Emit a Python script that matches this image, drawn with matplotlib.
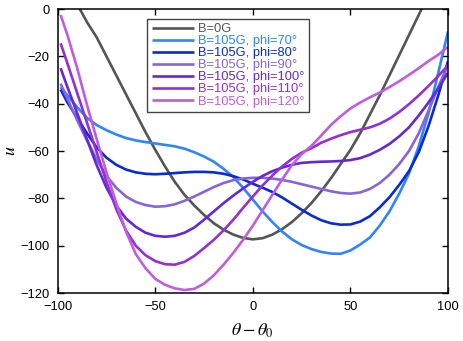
import matplotlib
matplotlib.use("Agg")
import matplotlib.pyplot as plt
import numpy as np

plt.rcParams['font.family'] = ['Liberation Sans', 'DejaVu Sans']
plt.rcParams['mathtext.fontset'] = 'stix'

# theta - theta0 sample points
x_gray = [-90, -85, -80, -75, -70, -65, -60, -55, -50, -45, -40, -35, -30, -25, -20,
          -15, -10, -5, 0, 5, 10, 15, 20, 25, 30, 35, 40, 45, 50, 55, 60, 65, 70,
          75, 80, 85, 90]
x_b = [-98.5, -95, -90, -85, -80, -75, -70, -65, -60, -55, -50, -45, -40, -35, -30,
       -25, -20, -15, -10, -5, 0, 5, 10, 15, 20, 25, 30, 35, 40, 45, 50, 55, 60,
       65, 70, 75, 80, 85, 90, 95, 100]

u_b0 = [2, -5.5, -12, -20, -28, -36, -44, -52, -59.5, -66.5, -73, -78.5, -83, -87,
        -90.5, -93.2, -95.3, -96.7, -97.3, -96.8, -95.3, -93, -90, -86.3, -82, -77,
        -71.5, -65.5, -59.5, -52.5, -44.5, -36.5, -28, -19.5, -11, -2.5, 6]

u_phi70 = [-33, -36.5, -41.5, -46, -49, -51.2, -53, -54.5, -55.5, -56.2, -56.8, -57.4,
           -58, -59, -60.5, -62.3, -64.5, -67.5, -71, -75.5, -80.5, -85.5, -90, -94,
           -97.3, -99.7, -101.4, -102.6, -103.3, -103.4, -102, -99.5, -96.5, -91.5,
           -85.5, -78, -69.5, -58, -44, -27, -9.5]

u_phi80 = [-34, -39.5, -46, -52.5, -58.5, -62.8, -65.8, -67.8, -69, -69.6, -69.8, -69.6,
           -69.3, -69, -68.8, -68.8, -69, -69.6, -70.6, -72, -73.8, -75.5, -77.3, -79.6,
           -82.2, -84.8, -87.2, -89.2, -90.5, -91.1, -91, -89.8, -87.5, -83.8, -79.5,
           -74.3, -68.5, -60.5, -49.5, -36.5, -22]

u_phi90 = [-31.5, -38, -47, -55.5, -63.5, -70.5, -75.5, -79.2, -81.5, -82.8, -83.5, -83.3,
           -82.5, -81, -79.2, -77.2, -75.2, -73.5, -72.3, -71.6, -71.3, -71.3, -71.6,
           -72.2, -73, -74, -75, -76, -77, -77.7, -78, -77.5, -76, -73.5, -70, -65.5,
           -60, -52.5, -43, -33, -23.5]

u_phi100 = [-25, -33, -44, -55, -66, -75.5, -83, -88.5, -92, -94.5, -95.8, -96.2, -95.8,
            -94.5, -92.3, -89, -85.5, -82, -78.8, -75.8, -73, -70.5, -68.5, -67, -65.8,
            -65, -64.7, -64.5, -64.4, -64.2, -63.8, -63, -61.5, -59.5, -57, -53.8, -50,
            -45, -39.5, -33.5, -27]

u_phi110 = [-14.5, -23, -35.5, -48, -60.5, -73, -84.5, -93.5, -100, -104, -106.5, -107.8,
            -108, -106.8, -104.3, -101, -97.5, -93.5, -89, -84, -79.2, -74.5, -70.3,
            -66.5, -63.3, -60.7, -58.8, -56.5, -54.8, -53.3, -52, -51, -50, -48.5, -46.3,
            -43.5, -40.2, -36.5, -32.5, -28.3, -23.8]

u_phi120 = [-2.5, -11, -25, -40.5, -55, -69, -82, -94, -103.5, -109.5, -114, -116.5, -118,
            -118.7, -118.2, -116, -112.5, -108, -103, -97.5, -91.5, -85, -78.5, -72, -66,
            -61.3, -57.8, -53.5, -49, -45.3, -42, -39.5, -37.3, -35.3, -33, -30.5, -27.8,
            -25, -22, -19.3, -16]

labels = ['B=0G', 'B=105G, phi=70°', 'B=105G, phi=80°', 'B=105G, phi=90°',
          'B=105G, phi=100°', 'B=105G, phi=110°', 'B=105G, phi=120°']
colors = ['#555555', '#2f85ff', '#0a2ad2', '#8466dc', '#6428d6', '#9230d2', '#c05ce0']

fig = plt.figure(figsize=(4.63, 3.41), dpi=100)
ax = fig.add_axes([0.1246, 0.1405, 0.843, 0.833])

series = [(x_gray, u_b0), (x_b, u_phi70), (x_b, u_phi80), (x_b, u_phi90),
          (x_b, u_phi100), (x_b, u_phi110), (x_b, u_phi120)]
for (xs, us), lab, col in zip(series, labels, colors):
    ax.plot(xs, us, color=col, lw=1.9, label=lab, solid_capstyle='butt')

ax.set_xlim(-100, 100)
ax.set_ylim(-120, 0)
ax.set_xticks([-100, -50, 0, 50, 100])
ax.set_yticks([0, -20, -40, -60, -80, -100, -120])
ax.tick_params(direction='in', top=True, right=True, length=4, width=1,
               labelsize=9.3, pad=6)
for s in ax.spines.values():
    s.set_linewidth(1.1)

ax.set_xlabel(r'$\theta-\theta_0$', fontsize=13, labelpad=6)
ax.set_ylabel(r'$u$', fontsize=13)
ax.yaxis.set_label_coords(-0.098, 0.5)

leg = ax.legend(loc='upper left', bbox_to_anchor=(0.229, 0.966), fontsize=9.3,
                labelcolor='linecolor', handlelength=3.3, handletextpad=0.3,
                labelspacing=0.0, borderpad=0.35, borderaxespad=0,
                fancybox=False, framealpha=1, edgecolor='#444444')
leg.get_frame().set_linewidth(1.0)

fig.savefig('out.png', dpi=100)
